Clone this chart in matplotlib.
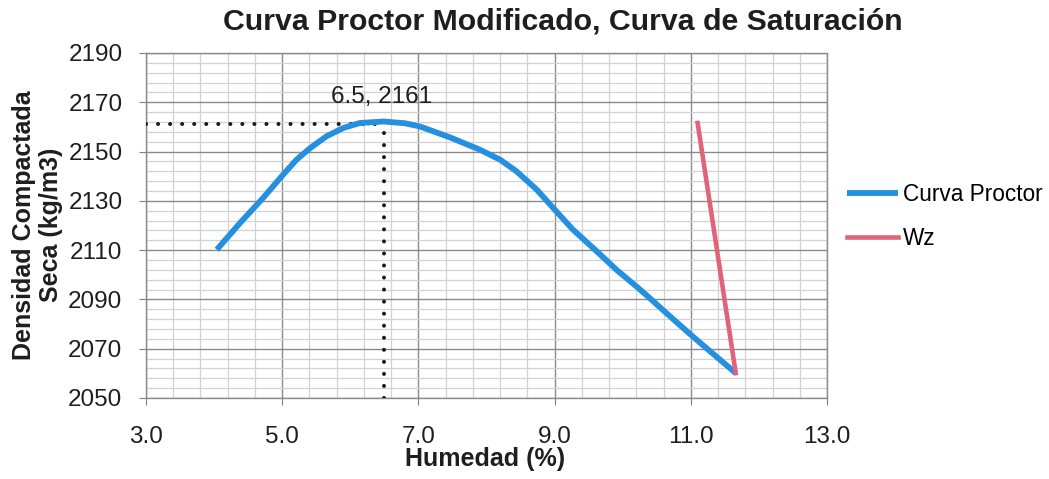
import matplotlib
matplotlib.use("Agg")
import matplotlib.pyplot as plt
from matplotlib.ticker import MultipleLocator, FormatStrFormatter

plt.rcParams['font.family'] = ['Liberation Sans', 'DejaVu Sans']

# Data
proctor_x = [4.04, 4.38, 4.72, 4.99, 5.21, 5.41, 5.65, 5.90, 6.14, 6.49, 6.80,
             7.02, 7.46, 7.90, 8.20, 8.44, 8.74, 8.98, 9.27, 9.62, 9.91, 10.23,
             10.37, 10.70, 11.04, 11.66]
proctor_y = [2110.2, 2121.0, 2131.2, 2139.9, 2146.7, 2151.4, 2156.2, 2159.6, 2161.6,
             2162.2, 2161.5, 2160.2, 2155.8, 2150.8, 2146.7, 2142.0, 2134.5, 2127.1,
             2118.3, 2109.5, 2102.0, 2094.6, 2091.2, 2083.0, 2074.7, 2060.1]
wz_x = [11.10, 11.66]
wz_y = [2161.6, 2060.1]
opt_w = 6.5
opt_d = 2161

title = "Curva Proctor Modificado, Curva de Saturación"
xlabel = "Humedad (%)"
ylabel = "Densidad Compactada\nSeca (kg/m3)"

W, H = 1049, 479
fig = plt.figure(figsize=(W / 100, H / 100), dpi=100)
ax = fig.add_axes([146 / W, 1 - 398 / H, 681 / W, 345 / H])

ax.set_xlim(3, 13)
ax.set_ylim(2050, 2190)
ax.xaxis.set_major_locator(MultipleLocator(2, offset=1))
ax.xaxis.set_minor_locator(MultipleLocator(0.4, offset=0.2))
ax.yaxis.set_major_locator(MultipleLocator(20, offset=10))
ax.yaxis.set_minor_locator(MultipleLocator(4, offset=2))
ax.xaxis.set_major_formatter(FormatStrFormatter('%.1f'))

ax.grid(which='minor', color='#d2d2d2', linewidth=0.9)
ax.grid(which='major', color='#8a8a8a', linewidth=1.0)
ax.set_axisbelow(True)

for s in ['top', 'right', 'left', 'bottom']:
    ax.spines[s].set_color('#8a8a8a')
    ax.spines[s].set_linewidth(1.0)

ax.tick_params(which='major', direction='out', length=5, color='#808080',
               labelsize=17.5, labelcolor='#1e1e1e')
ax.tick_params(axis='y', pad=12)
ax.tick_params(axis='x', pad=15)
ax.tick_params(which='minor', length=0)

# optimum dotted guides
ax.plot([3, opt_w], [opt_d, opt_d], color='#1a1a1a', lw=2.9,
        linestyle=(0, (0.01, 2.98)), dash_capstyle='round', zorder=3)
ax.plot([opt_w, opt_w], [2050, opt_d], color='#1a1a1a', lw=2.9,
        linestyle=(0, (0.01, 2.98)), dash_capstyle='round', zorder=3)

ax.plot(proctor_x, proctor_y, color='#2590e0', lw=4.2, solid_capstyle='butt',
        solid_joinstyle='round', label='Curva Proctor', zorder=4)
ax.plot(wz_x, wz_y, color='#e06478', lw=3.3, label='Wz', zorder=5)

ax.annotate(f"{opt_w}, {opt_d}", xy=(opt_w, opt_d), xytext=(6.46, 2169.7),
            ha='center', va='baseline', fontsize=17.5, color='#1e1e1e')

fig.text(485 / W, 1 - 459 / H, xlabel, ha='center', va='center',
         fontsize=18, fontweight='bold', color='#1e1e1e')
fig.text(37.5 / W, 1 - 225 / H, ylabel, ha='center', va='center', rotation=90,
         fontsize=18, fontweight='bold', color='#1e1e1e', linespacing=1.15,
         multialignment='center')

fig.text(563 / W, 1 - 22 / H, title, ha='center', va='center',
         fontsize=21.8, fontweight='bold', color='#1e1e1e')

fig.legend(handles=ax.get_lines()[2:], labels=['Curva Proctor', 'Wz'],
           loc='center left', bbox_to_anchor=(847 / W, 1 - 216.5 / H),
           bbox_transform=fig.transFigure, frameon=False, borderpad=0,
           borderaxespad=0, fontsize=16.3, handlelength=2.25,
           handletextpad=0.22, labelspacing=0.95)

fig.savefig('out.png', dpi=100)
